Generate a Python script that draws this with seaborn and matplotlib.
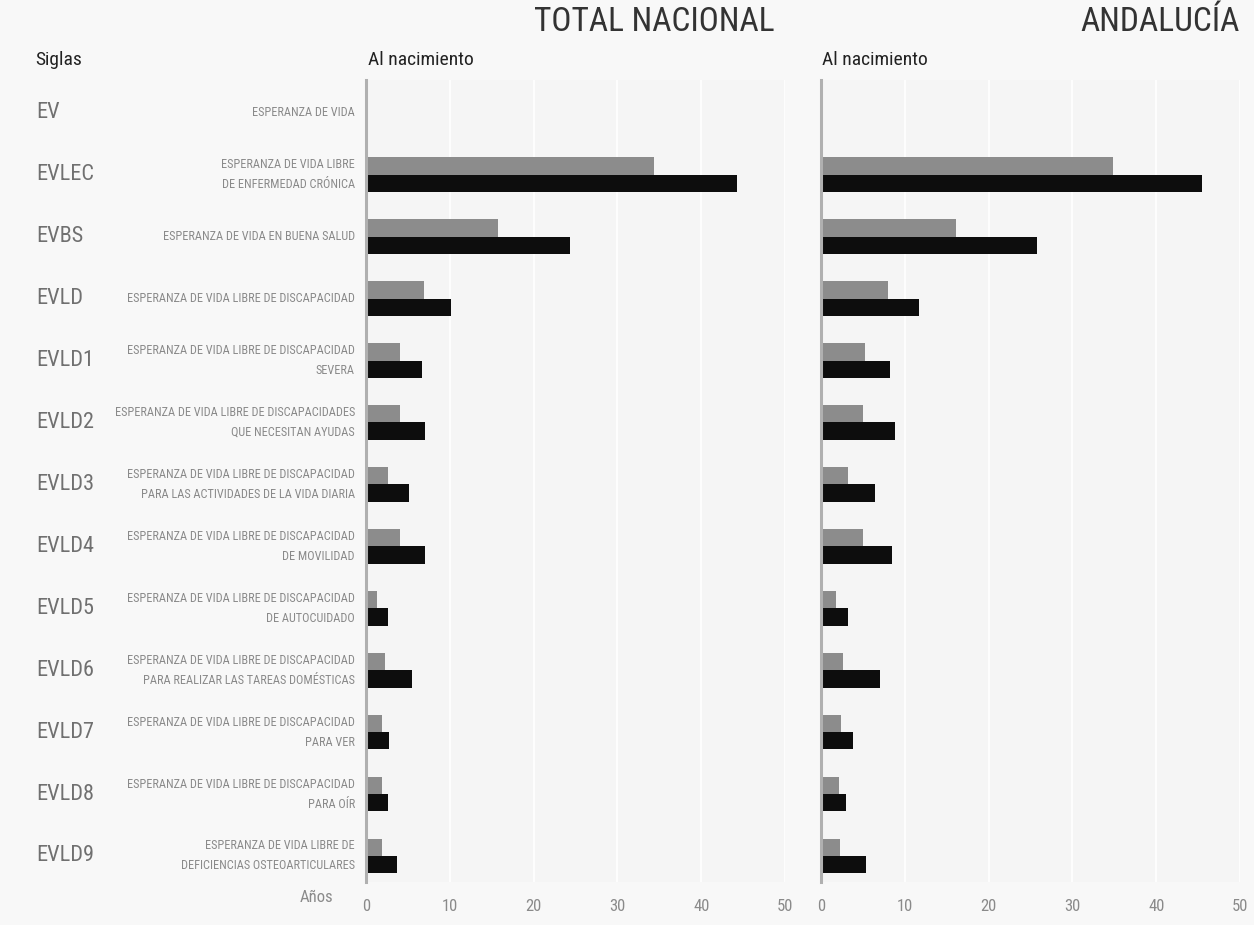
import numpy as np
import pandas as pd
import matplotlib
matplotlib.use("Agg")
import matplotlib.pyplot as plt
import matplotlib.transforms as mtransforms
from matplotlib import font_manager as fm
import seaborn as sns

# ---- data ----
siglas = ["EV", "EVLEC", "EVBS", "EVLD", "EVLD1", "EVLD2", "EVLD3",
          "EVLD4", "EVLD5", "EVLD6", "EVLD7", "EVLD8", "EVLD9"]
descripciones = [
    "ESPERANZA DE VIDA",
    "ESPERANZA DE VIDA LIBRE\nDE ENFERMEDAD CRÓNICA",
    "ESPERANZA DE VIDA EN BUENA SALUD",
    "ESPERANZA DE VIDA LIBRE DE DISCAPACIDAD",
    "ESPERANZA DE VIDA LIBRE DE DISCAPACIDAD\nSEVERA",
    "ESPERANZA DE VIDA LIBRE DE DISCAPACIDADES\nQUE NECESITAN AYUDAS",
    "ESPERANZA DE VIDA LIBRE DE DISCAPACIDAD\nPARA LAS ACTIVIDADES DE LA VIDA DIARIA",
    "ESPERANZA DE VIDA LIBRE DE DISCAPACIDAD\nDE MOVILIDAD",
    "ESPERANZA DE VIDA LIBRE DE DISCAPACIDAD\nDE AUTOCUIDADO",
    "ESPERANZA DE VIDA LIBRE DE DISCAPACIDAD\nPARA REALIZAR LAS TAREAS DOMÉSTICAS",
    "ESPERANZA DE VIDA LIBRE DE DISCAPACIDAD\nPARA VER",
    "ESPERANZA DE VIDA LIBRE DE DISCAPACIDAD\nPARA OÍR",
    "ESPERANZA DE VIDA LIBRE DE\nDEFICIENCIAS OSTEOARTICULARES",
]
series = ["Serie gris", "Serie negra"]
nacional_gris = [np.nan, 34.4, 15.8, 6.9, 4.0, 4.0, 2.6, 4.0, 1.3, 2.3, 1.9, 1.9, 1.9]
nacional_negra = [np.nan, 44.3, 24.3, 10.2, 6.7, 7.0, 5.1, 7.0, 2.6, 5.5, 2.7, 2.6, 3.7]
andalucia_gris = [np.nan, 34.9, 16.1, 8.0, 5.2, 5.0, 3.2, 5.0, 1.8, 2.6, 2.4, 2.1, 2.3]
andalucia_negra = [np.nan, 45.5, 25.8, 11.7, 8.2, 8.8, 6.4, 8.5, 3.2, 7.0, 3.8, 3.0, 5.4]
x_ticks = [0, 10, 20, 30, 40, 50]


def long_df(gris, negra):
    return pd.DataFrame({
        "sigla": siglas * 2,
        "serie": [series[0]] * len(siglas) + [series[1]] * len(siglas),
        "anios": list(gris) + list(negra),
    })


df_nac = long_df(nacional_gris, nacional_negra)
df_and = long_df(andalucia_gris, andalucia_negra)

sns.set_theme(style="white")
plt.rcParams["font.family"] = ["DejaVu Sans"]


# find a condensed / narrow face if one is installed
def find_narrow():
    best = None
    for f in fm.fontManager.ttflist:
        narrow = ("Narrow" in f.name or "Condensed" in f.name or
                  "Condensed" in f.fname or "Narrow" in f.fname or
                  str(f.stretch) in ("condensed", "semi-condensed", "extra-condensed"))
        if not narrow or f.style != "normal":
            continue
        w = f.weight if isinstance(f.weight, int) else 400
        if w != 400 and f.weight not in ("normal", "regular"):
            continue
        score = 0 if "Liberation" in f.name else (1 if "Roboto" in f.name else 2)
        if best is None or score < best[0]:
            best = (score, f.fname)
    return best[1] if best else None


narrow_path = find_narrow()


def fp(size):
    if narrow_path:
        return fm.FontProperties(fname=narrow_path, size=size)
    return fm.FontProperties(family="DejaVu Sans", size=size * 0.85)


W, H = 1254, 925
fig = plt.figure(figsize=(W / 100, H / 100), dpi=100, facecolor="#f8f8f8")


def px_axes(x0, x1, y0, y1):
    return fig.add_axes([x0 / W, 1 - y1 / H, (x1 - x0) / W, (y1 - y0) / H])


ax1 = px_axes(366, 785, 80, 882)
ax2 = px_axes(821, 1240, 80, 882)

palette = {series[0]: "#8c8c8c", series[1]: "#0d0d0d"}
for ax, df in [(ax1, df_nac), (ax2, df_and)]:
    sns.barplot(data=df, y="sigla", x="anios", hue="serie", order=siglas,
                hue_order=series, palette=palette, width=0.56, orient="h",
                ax=ax, legend=False, saturation=1, linewidth=0)
    ax.set_facecolor("#f5f5f5")
    ax.set_xlim(0, 50)
    ax.set_ylim(12.42, -0.53)
    ax.set_xticks(x_ticks)
    ax.set_xticklabels([str(t) for t in x_ticks], color="#8a8a8a",
                       fontproperties=fp(12))
    ax.set_yticks([])
    ax.set_xlabel("")
    ax.set_ylabel("")
    for t in x_ticks[1:]:
        ax.axvline(t, color="#ffffff", lw=1.2, zorder=0)
    for s in ["top", "right", "bottom"]:
        ax.spines[s].set_visible(False)
    ax.spines["left"].set_color("#b0b0b0")
    ax.spines["left"].set_linewidth(2.2)
    ax.tick_params(axis="x", length=0, pad=12)

# titles
fig.text(775 / W, 1 - 22 / H, "TOTAL NACIONAL", ha="right", va="center",
         fontproperties=fp(24), color="#333333")
fig.text(1240 / W, 1 - 22 / H, "ANDALUCÍA", ha="right", va="center",
         fontproperties=fp(24), color="#333333")
for x0, txt in [(368, "Al nacimiento"), (822, "Al nacimiento"), (35, "Siglas")]:
    fig.text(x0 / W, 1 - 60 / H, txt, ha="left", va="center",
             fontproperties=fp(14), color="#222222")
fig.text(333 / W, 1 - 898 / H, "Años", ha="right", va="center",
         fontproperties=fp(12), color="#8a8a8a")

# row labels
trans = mtransforms.blended_transform_factory(fig.transFigure, ax1.transData)
for i, (s, d) in enumerate(zip(siglas, descripciones)):
    ax1.text(36 / W, i, s, transform=trans, ha="left", va="center",
             fontproperties=fp(16), color="#707070", clip_on=False)
    ax1.text(355 / W, i, d, transform=trans, ha="right", va="center",
             fontproperties=fp(8.8), color="#8a8a8a", linespacing=1.7,
             clip_on=False)

fig.savefig("out.png", dpi=100, facecolor=fig.get_facecolor())
